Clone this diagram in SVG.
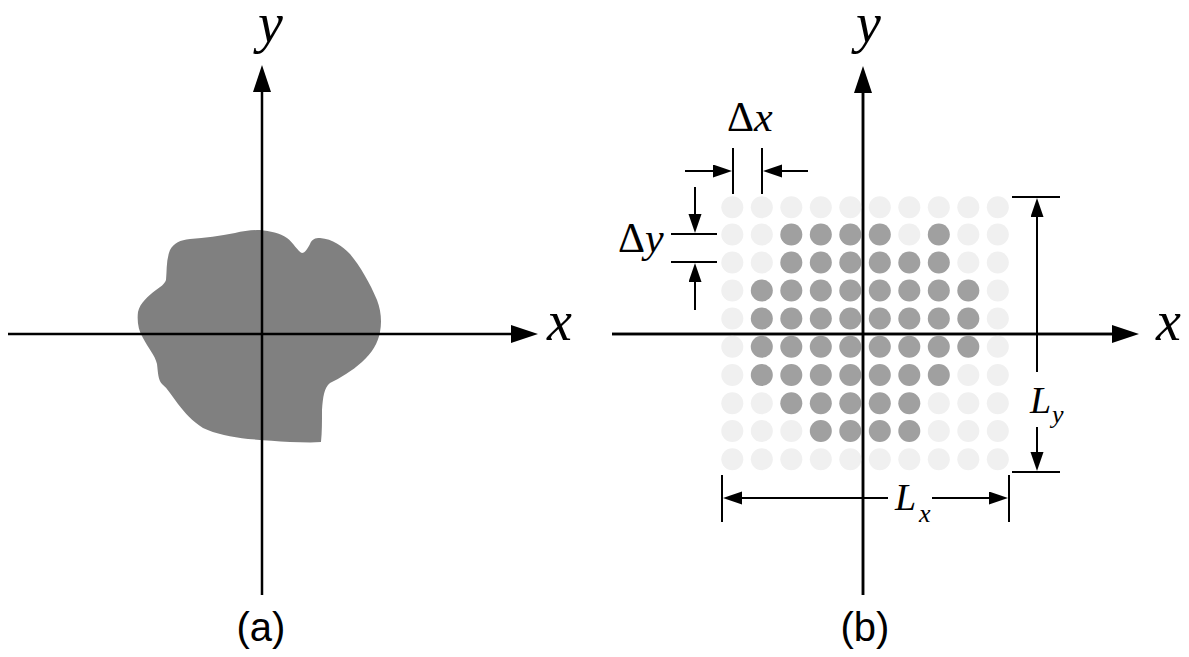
<svg xmlns="http://www.w3.org/2000/svg" width="1189" height="657" viewBox="0 0 1189 657">
<style>
.ax{stroke:#000;stroke-width:2.5;fill:none}
.dim{stroke:#000;stroke-width:2;fill:none}
.lt{fill:#f0f0f0}
.dk{fill:#a0a0a0}
.it{font-family:"Liberation Serif","DejaVu Serif","Times New Roman",serif;font-style:italic;fill:#000}
.rm{font-family:"Liberation Serif","DejaVu Serif","Times New Roman",serif;font-style:normal;fill:#000}
.cap{font-family:"Liberation Sans",Arial,sans-serif;fill:#000;font-size:40px;text-anchor:middle}
</style>
<defs>
<marker id="big" markerUnits="userSpaceOnUse" markerWidth="28" markerHeight="20" viewBox="0 0 28 20" refX="10" refY="9" orient="auto"><path d="M0,0 L27,9 L0,18 z" fill="#000"/></marker>
<marker id="sm" markerUnits="userSpaceOnUse" markerWidth="20" markerHeight="14" viewBox="0 0 20 14" refX="8" refY="6.5" orient="auto"><path d="M0,0 L19,6.5 L0,13 z" fill="#000"/></marker>
</defs>
<rect width="1189" height="657" fill="#fff"/>

<g id="panel-a">
<path id="blob" fill="#808080" d="M260,230 C270,231 280,233 287,238 C293,242 298,252 302,253 C305,253 308,248 310,244 C312,239 315,238 320,238 C333,239 342,246 350,254 C360,266 370,283 377,300 C381,310 382,322 380,332 C378,343 372,353 362,362 C352,371 340,378 330,383 C324,388 323,397 322,410 C322,422 322,432 321,442 C310,443 300,442 290,442 C275,441 262,440 248,439 C232,437 215,434 203,428 C192,421 185,413 178,404 C172,396 168,389 162,384 C158,380 158,372 157,364 C155,355 148,348 143,338 C138,330 137,320 138,312 C140,303 148,296 156,290 C161,286 164,285 166,280 C167,270 166,260 170,250 C174,243 180,240 190,239 C205,238 220,236 235,233 C243,231 252,230 260,230 Z"/>
</g>

<g id="connectors">
<line class="ax" x1="8" y1="334" x2="521" y2="334" marker-end="url(#big)"/>
<line class="ax" x1="262" y1="595" x2="262" y2="82" marker-end="url(#big)"/>
<line class="ax" x1="612" y1="334" x2="1122" y2="334" marker-end="url(#big)"/>
<line class="ax" x1="863" y1="595" x2="863" y2="83" marker-end="url(#big)"/>

<line class="dim" x1="733" y1="148" x2="733" y2="194"/>
<line class="dim" x1="762" y1="148" x2="762" y2="194"/>
<line class="dim" x1="685" y1="171" x2="721" y2="171" marker-end="url(#sm)"/>
<line class="dim" x1="808" y1="171" x2="774" y2="171" marker-end="url(#sm)"/>

<line class="dim" x1="671" y1="234" x2="717" y2="234"/>
<line class="dim" x1="671" y1="262" x2="717" y2="262"/>
<line class="dim" x1="695" y1="187" x2="695" y2="222" marker-end="url(#sm)"/>
<line class="dim" x1="695" y1="310" x2="695" y2="274" marker-end="url(#sm)"/>

<line class="dim" x1="1012" y1="197" x2="1060" y2="197"/>
<line class="dim" x1="1012" y1="472" x2="1060" y2="472"/>
<line class="dim" x1="1037" y1="372" x2="1037" y2="209" marker-end="url(#sm)"/>
<line class="dim" x1="1037" y1="427" x2="1037" y2="460" marker-end="url(#sm)"/>

<line class="dim" x1="722" y1="475" x2="722" y2="522"/>
<line class="dim" x1="1009" y1="475" x2="1009" y2="522"/>
<line class="dim" x1="888" y1="498" x2="734" y2="498" marker-end="url(#sm)"/>
<line class="dim" x1="932" y1="498" x2="997" y2="498" marker-end="url(#sm)"/>
</g>

<g id="grid">
<g class="lt">
<circle cx="732.3" cy="207.3" r="11"/><circle cx="761.8" cy="207.3" r="11"/><circle cx="791.3" cy="207.3" r="11"/><circle cx="820.8" cy="207.3" r="11"/><circle cx="850.3" cy="207.3" r="11"/><circle cx="879.8" cy="207.3" r="11"/><circle cx="909.3" cy="207.3" r="11"/><circle cx="938.8" cy="207.3" r="11"/><circle cx="968.3" cy="207.3" r="11"/><circle cx="997.8" cy="207.3" r="11"/>
<circle cx="732.3" cy="234.5" r="11"/><circle cx="761.8" cy="234.5" r="11"/><circle cx="909.3" cy="234.5" r="11"/><circle cx="968.3" cy="234.5" r="11"/><circle cx="997.8" cy="234.5" r="11"/>
<circle cx="732.3" cy="262.5" r="11"/><circle cx="761.8" cy="262.5" r="11"/><circle cx="968.3" cy="262.5" r="11"/><circle cx="997.8" cy="262.5" r="11"/>
<circle cx="732.3" cy="290.5" r="11"/><circle cx="997.8" cy="290.5" r="11"/>
<circle cx="732.3" cy="318.5" r="11"/><circle cx="997.8" cy="318.5" r="11"/>
<circle cx="732.3" cy="346.7" r="11"/><circle cx="997.8" cy="346.7" r="11"/>
<circle cx="732.3" cy="375" r="11"/><circle cx="968.3" cy="375" r="11"/><circle cx="997.8" cy="375" r="11"/>
<circle cx="732.3" cy="403.3" r="11"/><circle cx="761.8" cy="403.3" r="11"/><circle cx="938.8" cy="403.3" r="11"/><circle cx="968.3" cy="403.3" r="11"/><circle cx="997.8" cy="403.3" r="11"/>
<circle cx="732.3" cy="431" r="11"/><circle cx="761.8" cy="431" r="11"/><circle cx="791.3" cy="431" r="11"/><circle cx="938.8" cy="431" r="11"/><circle cx="968.3" cy="431" r="11"/><circle cx="997.8" cy="431" r="11"/>
<circle cx="732.3" cy="459.3" r="11"/><circle cx="761.8" cy="459.3" r="11"/><circle cx="791.3" cy="459.3" r="11"/><circle cx="820.8" cy="459.3" r="11"/><circle cx="850.3" cy="459.3" r="11"/><circle cx="879.8" cy="459.3" r="11"/><circle cx="909.3" cy="459.3" r="11"/><circle cx="938.8" cy="459.3" r="11"/><circle cx="968.3" cy="459.3" r="11"/><circle cx="997.8" cy="459.3" r="11"/>
</g>
<g class="dk">
<circle cx="791.3" cy="234.5" r="11"/><circle cx="820.8" cy="234.5" r="11"/><circle cx="850.3" cy="234.5" r="11"/><circle cx="879.8" cy="234.5" r="11"/><circle cx="938.8" cy="234.5" r="11"/>
<circle cx="791.3" cy="262.5" r="11"/><circle cx="820.8" cy="262.5" r="11"/><circle cx="850.3" cy="262.5" r="11"/><circle cx="879.8" cy="262.5" r="11"/><circle cx="909.3" cy="262.5" r="11"/><circle cx="938.8" cy="262.5" r="11"/>
<circle cx="761.8" cy="290.5" r="11"/><circle cx="791.3" cy="290.5" r="11"/><circle cx="820.8" cy="290.5" r="11"/><circle cx="850.3" cy="290.5" r="11"/><circle cx="879.8" cy="290.5" r="11"/><circle cx="909.3" cy="290.5" r="11"/><circle cx="938.8" cy="290.5" r="11"/><circle cx="968.3" cy="290.5" r="11"/>
<circle cx="761.8" cy="318.5" r="11"/><circle cx="791.3" cy="318.5" r="11"/><circle cx="820.8" cy="318.5" r="11"/><circle cx="850.3" cy="318.5" r="11"/><circle cx="879.8" cy="318.5" r="11"/><circle cx="909.3" cy="318.5" r="11"/><circle cx="938.8" cy="318.5" r="11"/><circle cx="968.3" cy="318.5" r="11"/>
<circle cx="761.8" cy="346.7" r="11"/><circle cx="791.3" cy="346.7" r="11"/><circle cx="820.8" cy="346.7" r="11"/><circle cx="850.3" cy="346.7" r="11"/><circle cx="879.8" cy="346.7" r="11"/><circle cx="909.3" cy="346.7" r="11"/><circle cx="938.8" cy="346.7" r="11"/><circle cx="968.3" cy="346.7" r="11"/>
<circle cx="761.8" cy="375" r="11"/><circle cx="791.3" cy="375" r="11"/><circle cx="820.8" cy="375" r="11"/><circle cx="850.3" cy="375" r="11"/><circle cx="879.8" cy="375" r="11"/><circle cx="909.3" cy="375" r="11"/><circle cx="938.8" cy="375" r="11"/>
<circle cx="791.3" cy="403.3" r="11"/><circle cx="820.8" cy="403.3" r="11"/><circle cx="850.3" cy="403.3" r="11"/><circle cx="879.8" cy="403.3" r="11"/><circle cx="909.3" cy="403.3" r="11"/>
<circle cx="820.8" cy="431" r="11"/><circle cx="850.3" cy="431" r="11"/><circle cx="879.8" cy="431" r="11"/><circle cx="909.3" cy="431" r="11"/>
</g>
</g>

<g id="axes-front">
<line class="ax" x1="612" y1="334" x2="1112" y2="334"/>
<line class="ax" x1="863" y1="595" x2="863" y2="90"/>
</g>

<g id="labels">
<text class="it" x="258" y="42" font-size="56">y</text>
<text class="it" x="547" y="340" font-size="56">x</text>
<text class="it" x="856" y="42" font-size="56">y</text>
<text class="it" x="1156" y="340" font-size="56">x</text>
<text x="727" y="131" font-size="42"><tspan class="rm">Δ</tspan><tspan class="it">x</tspan></text>
<text x="618" y="252" font-size="42"><tspan class="rm">Δ</tspan><tspan class="it">y</tspan></text>
<text class="it" x="1030" y="413" font-size="38">L</text>
<text class="it" x="1052" y="423" font-size="26">y</text>
<text class="it" x="895" y="510" font-size="38">L</text>
<text class="it" x="919" y="522" font-size="26">x</text>
<text class="cap" x="261" y="641">(a)</text>
<text class="cap" x="865" y="641">(b)</text>
</g>
</svg>
